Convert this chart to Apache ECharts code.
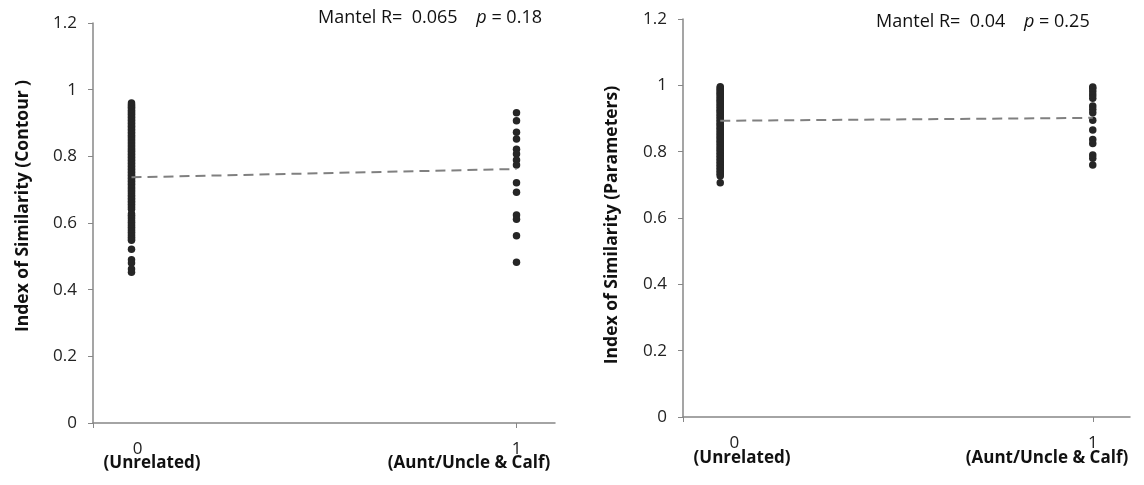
<!DOCTYPE html>
<html>
<head>
<meta charset="utf-8">
<script src="https://cdn.jsdelivr.net/npm/echarts@6/dist/echarts.min.js"></script>
<style>
  html, body { margin: 0; padding: 0; background: #fff; }
  #main { width: 1144px; height: 485px; }
</style>
</head>
<body>
<div id="main"></div>
<script>
// values
var yTicks = [0, 0.2, 0.4, 0.6, 0.8, 1, 1.2];
var xCats = ['(Unrelated)', '(Aunt/Uncle & Calf)'];

// left: contour similarity
var contourUnrelated = [0.960, 0.955, 0.951, 0.947, 0.943, 0.938, 0.934, 0.930, 0.926, 0.921,
    0.917, 0.912, 0.908, 0.903, 0.899, 0.894, 0.890, 0.886, 0.881, 0.877, 0.872, 0.868, 0.863,
    0.859, 0.855, 0.850, 0.846, 0.841, 0.837, 0.832, 0.828, 0.823, 0.819, 0.815, 0.810, 0.806,
    0.801, 0.797, 0.792, 0.788, 0.783, 0.779, 0.774, 0.770, 0.765, 0.761, 0.756, 0.752, 0.747,
    0.743, 0.738, 0.734, 0.729, 0.725, 0.720, 0.716, 0.711, 0.706, 0.702, 0.697, 0.693, 0.688,
    0.683, 0.679, 0.674, 0.670, 0.665, 0.661, 0.656, 0.651, 0.646, 0.641, 0.628, 0.623, 0.618,
    0.613, 0.607, 0.602, 0.597, 0.592, 0.587, 0.582, 0.577, 0.572, 0.567, 0.562, 0.557, 0.552,
    0.548, 0.521, 0.490, 0.480, 0.462, 0.452];
var contourRelated = [0.931, 0.907, 0.872, 0.852, 0.821, 0.807, 0.789, 0.774, 0.721, 0.692,
    0.624, 0.611, 0.562, 0.482];
var contourTrend = [0.737, 0.762];

// right: parameter similarity
var paramUnrelated = [0.996, 0.992, 0.988, 0.984, 0.980, 0.976, 0.972, 0.968, 0.963, 0.959,
    0.955, 0.951, 0.947, 0.942, 0.938, 0.934, 0.929, 0.925, 0.921, 0.917, 0.912, 0.908, 0.904,
    0.899, 0.895, 0.891, 0.886, 0.882, 0.878, 0.873, 0.869, 0.865, 0.860, 0.856, 0.852, 0.847,
    0.843, 0.839, 0.834, 0.830, 0.826, 0.821, 0.817, 0.812, 0.808, 0.804, 0.799, 0.795, 0.790,
    0.786, 0.781, 0.777, 0.772, 0.768, 0.763, 0.759, 0.754, 0.750, 0.745, 0.741, 0.736, 0.732,
    0.727, 0.706];
var paramRelated = [0.995, 0.990, 0.981, 0.971, 0.961, 0.938, 0.928, 0.917, 0.895, 0.865,
    0.837, 0.825, 0.790, 0.780, 0.760];
var paramTrend = [0.893, 0.902];

var FONT = 'Open Sans';
var AXIS_COLOR = '#878787';
var DOT_COLOR = '#262626';

var chartDom = document.getElementById('main');
var myChart = echarts.init(chartDom, null, { width: 1144, height: 485 });

function toPoints(x, arr) {
    return arr.map(function (v) { return [x, v]; });
}

// zeroShift: the "0" label sits a little right of its tick in the original
function makeX(idx, zeroShift) {
    return {
        gridIndex: idx,
        type: 'value',
        min: -0.1,
        max: 1.1,
        splitLine: { show: false },
        axisLine: { onZero: false, lineStyle: { color: AXIS_COLOR, width: 1.5 } },
        axisTick: { show: true, customValues: [-0.1, 1], length: 5, lineStyle: { color: AXIS_COLOR } },
        axisLabel: {
            customValues: [0, 1],
            margin: 18,
            color: '#222',
            fontFamily: FONT,
            fontSize: 17,
            formatter: function (v) { return v === 0 ? '{z|0}' : '1'; },
            rich: {
                z: { fontFamily: FONT, fontSize: 17, color: '#222', padding: [0, 0, 0, zeroShift * 2] }
            }
        }
    };
}

function makeY(idx) {
    return {
        gridIndex: idx,
        type: 'value',
        min: 0,
        max: 1.2,
        interval: 0.2,
        splitLine: { show: false },
        axisLine: { show: true, onZero: false, lineStyle: { color: AXIS_COLOR, width: 1.5 } },
        axisTick: { show: true, length: 5, lineStyle: { color: AXIS_COLOR } },
        axisLabel: {
            margin: 16,
            color: '#222',
            fontFamily: FONT,
            fontSize: 17,
            formatter: function (v) { return String(Math.round(v * 10) / 10); }
        }
    };
}

function dots(idx, x, arr) {
    return {
        type: 'scatter',
        xAxisIndex: idx,
        yAxisIndex: idx,
        symbol: 'circle',
        symbolSize: 7.5,
        itemStyle: { color: DOT_COLOR, opacity: 1 },
        data: toPoints(x, arr)
    };
}

function trend(idx, arr) {
    return {
        type: 'line',
        xAxisIndex: idx,
        yAxisIndex: idx,
        showSymbol: false,
        symbol: 'none',
        lineStyle: { color: '#808080', width: 2, type: [10, 6] },
        data: [[0, arr[0]], [1, arr[1]]],
        z: 3
    };
}

function boldText(x, y, text, size, rot) {
    return {
        type: 'text',
        x: x,
        y: y,
        rotation: rot || 0,
        style: {
            text: text,
            align: 'center',
            verticalAlign: 'middle',
            fontFamily: FONT,
            fontWeight: 'bold',
            fontSize: size,
            fill: '#111'
        }
    };
}

function mantel(x, y, r, p) {
    return {
        type: 'text',
        x: x,
        y: y,
        style: {
            text: 'Mantel R=  ' + r + '    {i|p} = ' + p,
            align: 'left',
            verticalAlign: 'middle',
            fontFamily: FONT,
            fontSize: 18,
            fill: '#111',
            rich: {
                i: { fontFamily: FONT, fontSize: 18, fontStyle: 'italic', fill: '#111' }
            }
        }
    };
}

var option = {
    animation: false,
    backgroundColor: '#fff',
    grid: [
        { left: 93, top: 23, width: 462, height: 400 },
        { left: 683, top: 19, width: 447, height: 398 }
    ],
    xAxis: [makeX(0, 6), makeX(1, 14)],
    yAxis: [makeY(0), makeY(1)],
    series: [
        trend(0, contourTrend),
        dots(0, 0, contourUnrelated),
        dots(0, 1, contourRelated),
        trend(1, paramTrend),
        dots(1, 0, paramUnrelated),
        dots(1, 1, paramRelated)
    ],
    graphic: [
        boldText(23, 206, 'Index of Similarity (Contour )', 17.5, Math.PI / 2),
        boldText(612, 225, 'Index of Similarity (Parameters)', 17.5, Math.PI / 2),
        boldText(152, 463, xCats[0], 17),
        boldText(469, 463, xCats[1], 17),
        boldText(742, 458, xCats[0], 17),
        boldText(1047, 458, xCats[1], 17),
        mantel(318, 18, '0.065', '0.18'),
        mantel(876, 22, '0.04', '0.25')
    ]
};

option && myChart.setOption(option);
</script>
</body>
</html>
